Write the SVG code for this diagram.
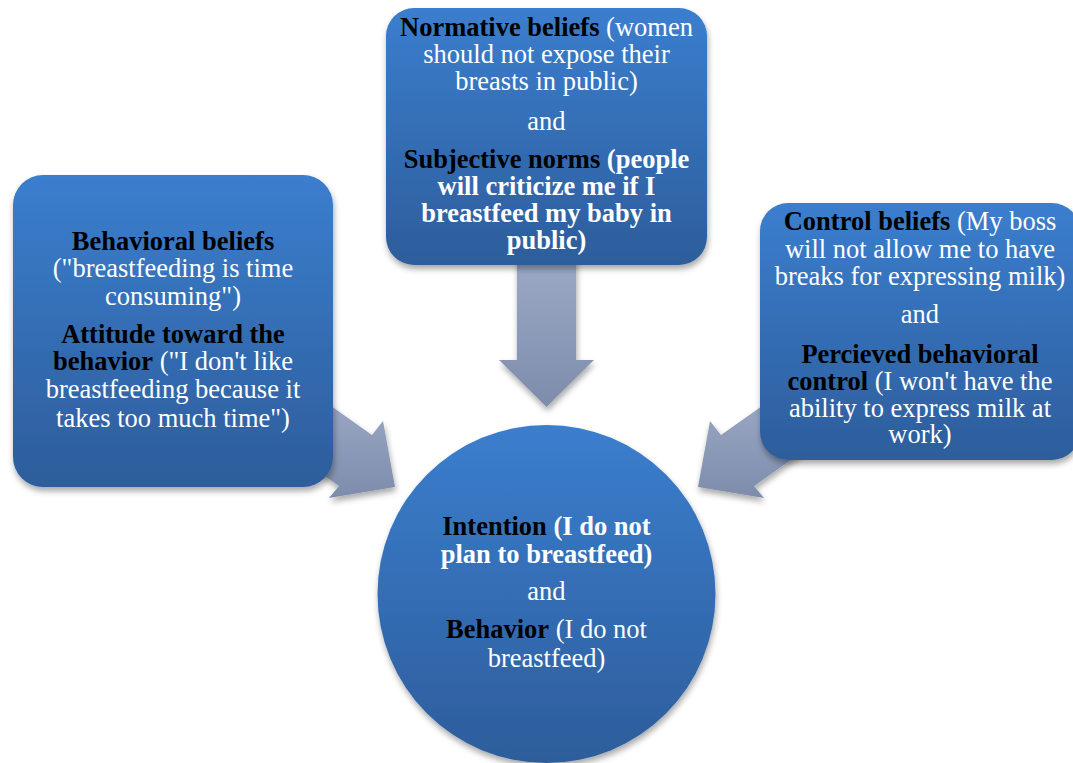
<svg xmlns="http://www.w3.org/2000/svg" width="1073" height="763" viewBox="0 0 1073 763">
<defs>
<linearGradient id="gBlue" x1="0" y1="0" x2="0" y2="1">
<stop offset="0" stop-color="#3b7ece"/>
<stop offset="1" stop-color="#2d5d9b"/>
</linearGradient>
<linearGradient id="gArrow" x1="0" y1="0" x2="0" y2="1">
<stop offset="0" stop-color="#9dabc8"/>
<stop offset="1" stop-color="#7d8cab"/>
</linearGradient>
<filter id="sh" x="-20%" y="-20%" width="140%" height="140%">
<feGaussianBlur in="SourceAlpha" stdDeviation="3"/>
<feOffset dx="1" dy="4" result="o"/>
<feComponentTransfer><feFuncA type="linear" slope="0.35"/></feComponentTransfer>
<feMerge><feMergeNode/><feMergeNode in="SourceGraphic"/></feMerge>
</filter>
</defs>
<style>
text{font-size:26.5px;fill:#ffffff;text-anchor:middle}
.b{font-weight:bold;fill:#000000}
.bw{font-weight:bold}
.node{fill:url(#gBlue);filter:url(#sh)}
.arrow{fill:url(#gArrow);filter:url(#sh)}
</style>
<g id="connectors">
<polygon class="arrow" points="517,250 576,250 576,360 594,360 546.5,407 499,360 517,360"/>
<polygon class="arrow" points="307,389 372,435 383,421 395,487 329,498 339,486 274,440"/>
<polygon class="arrow" points="786,389 721,435 710,421 698,487 764,498 754,486 819,440"/>
</g>
<g id="node-normative" font-family="Liberation Serif, Times New Roman, serif">
<rect class="node" x="386" y="8" width="321" height="257" rx="28"/>
<text x="546.5" y="36"><tspan class="b">Normative beliefs</tspan> (women</text>
<text x="546.5" y="63">should not expose their</text>
<text x="546.5" y="90">breasts in public)</text>
<text x="546.5" y="130">and</text>
<text x="546.5" y="168" class="bw"><tspan class="b">Subjective norms</tspan> (people</text>
<text x="546.5" y="195" class="bw">will criticize me if I</text>
<text x="546.5" y="222" class="bw">breastfeed my baby in</text>
<text x="546.5" y="249" class="bw">public)</text>
</g>
<g id="node-behavioral" font-family="Liberation Serif, Times New Roman, serif">
<rect class="node" x="13" y="175" width="320" height="312" rx="30"/>
<text x="173" y="250" class="b">Behavioral beliefs</text>
<text x="173" y="277">("breastfeeding is time</text>
<text x="173" y="305">consuming")</text>
<text x="173" y="343" class="b">Attitude toward the</text>
<text x="173" y="370"><tspan class="b">behavior</tspan> ("I don't like</text>
<text x="173" y="398">breastfeeding because it</text>
<text x="173" y="427">takes too much time")</text>
</g>
<g id="node-control" font-family="Liberation Serif, Times New Roman, serif">
<rect class="node" x="760" y="203" width="320" height="257" rx="28"/>
<text x="920" y="230"><tspan class="b">Control beliefs</tspan> (My boss</text>
<text x="920" y="258">will not allow me to have</text>
<text x="920" y="285">breaks for expressing milk)</text>
<text x="920" y="323">and</text>
<text x="920" y="363" class="b">Percieved behavioral</text>
<text x="920" y="390"><tspan class="b">control</tspan> (I won't have the</text>
<text x="920" y="417">ability to express milk at</text>
<text x="920" y="443">work)</text>
</g>
<g id="node-intention" font-family="Liberation Serif, Times New Roman, serif">
<circle class="node" cx="546.5" cy="594" r="169"/>
<text x="546.5" y="535" class="bw"><tspan class="b">Intention</tspan> (I do not</text>
<text x="546.5" y="563" class="bw">plan to breastfeed)</text>
<text x="546.5" y="600">and</text>
<text x="546.5" y="638"><tspan class="b">Behavior</tspan> (I do not</text>
<text x="546.5" y="667">breastfeed)</text>
</g>
</svg>
